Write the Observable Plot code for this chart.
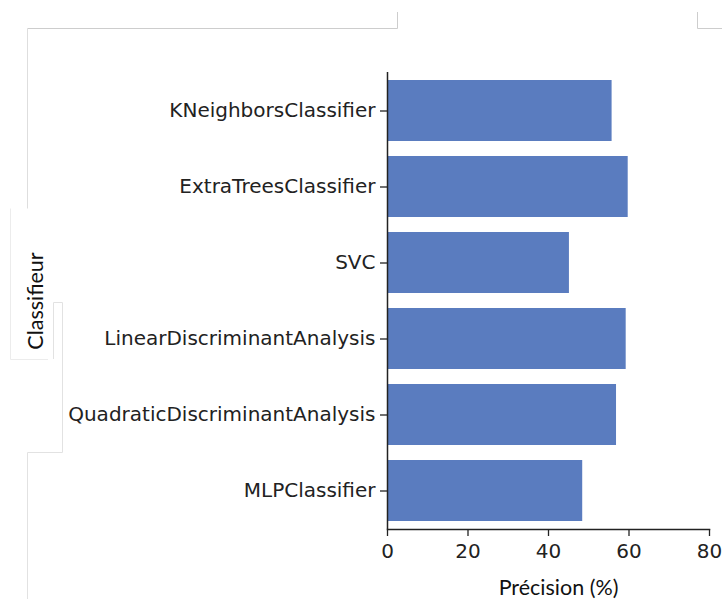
<!DOCTYPE html>
<html>
<head>
<meta charset="utf-8">
<script src="https://cdn.jsdelivr.net/npm/d3@7"></script>
<script src="https://cdn.jsdelivr.net/npm/@observablehq/plot@0.6"></script>
<style>
  html, body { margin: 0; padding: 0; background: #fff; }
  #wrap { position: relative; width: 722px; height: 599px; overflow: hidden; }
  #deco { position: absolute; left: 0; top: 0; pointer-events: none; }
</style>
</head>
<body>
<div id="wrap">
  <div id="chart"></div>
  <svg id="deco" width="722" height="599">
    <g stroke-width="1" fill="none">
      <path stroke="#cdcdcd" d="M27.5,28.5H397.5V12"/>
      <path stroke="#cdcdcd" d="M697.5,12V28.5H722"/>
      <path stroke="#dedede" d="M27.5,28.5V208.5"/>
      <path stroke="#ececec" d="M10.5,208.5V359.5H48"/>
      <path stroke="#e2e2e2" d="M53.5,359V302.5H62.5V452.5H27.5V599"/>
    </g>
  </svg>
</div>
<script>
const classifiers = [
  "KNeighborsClassifier",
  "ExtraTreesClassifier",
  "SVC",
  "LinearDiscriminantAnalysis",
  "QuadraticDiscriminantAnalysis",
  "MLPClassifier"
];
const precision = [55.8, 59.8, 45.2, 59.3, 56.9, 48.5];
const xTicks = [0, 20, 40, 60, 80];
const xLabel = "Précision (%)";
const yLabel = "Classifieur";

const data = classifiers.map((c, i) => ({classifier: c, value: precision[i]}));

const chart = Plot.plot({
  width: 722,
  height: 599,
  marginLeft: 387,
  marginRight: 13,
  marginTop: 72,
  marginBottom: 70,
  style: {fontFamily: "DejaVu Sans", fontSize: "20px", color: "#222", background: "transparent"},
  x: {domain: [0, 80], ticks: xTicks, label: null},
  y: {domain: classifiers, paddingInner: 0.2, paddingOuter: 0.1, label: null},
  marks: [
    Plot.barX(data, {x: "value", y: "classifier", fill: "#5a7cbf"}),
    Plot.axisX({ticks: xTicks, tickSize: 7, tickPadding: 7, label: null, fontSize: 20, stroke: "#222", strokeWidth: 1.3}),
    Plot.axisY({tickSize: 7, tickPadding: 5, label: null, fontSize: 20, stroke: "#222", strokeWidth: 1.3}),
    Plot.ruleX([0], {stroke: "#222", strokeWidth: 1.5}),
    Plot.frame({anchor: "bottom", stroke: "#222", strokeWidth: 1.5}),
    Plot.text([xLabel], {text: d => d, frameAnchor: "bottom", textAnchor: "middle", dx: 10, dy: 59, fontFamily: "Lato", fontSize: 21.5, fill: "#111", lineAnchor: "middle"}),
    Plot.text([yLabel], {text: d => d, frameAnchor: "left", textAnchor: "middle", dx: -351, rotate: -90, fontFamily: "Lato", fontSize: 21.5, fill: "#111", lineAnchor: "middle"})
  ]
});
document.getElementById("chart").appendChild(chart);
</script>
</body>
</html>
